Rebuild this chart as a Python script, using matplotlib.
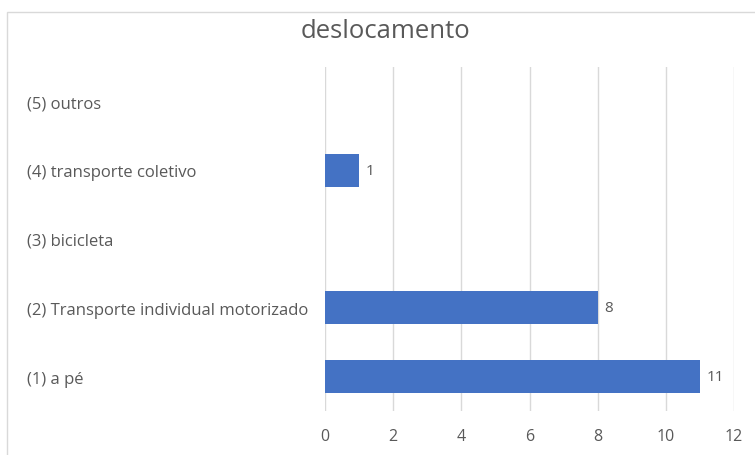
import matplotlib.pyplot as plt
from matplotlib.patches import Rectangle

# modes of travel, bottom to top
categories = ['(1) a pé', '(2) Transporte individual motorizado', '(3) bicicleta',
              '(4) transporte coletivo', '(5) outros']
counts = [11, 8, 0, 1, 0]
x_ticks = [0, 2, 4, 6, 8, 10, 12]

bar_color = '#4472C4'
text_color = '#595959'
grid_color = '#D9D9D9'

plt.rcParams['font.family'] = ['Open Sans', 'DejaVu Sans']

fig = plt.figure(figsize=(7.55, 4.56), dpi=100)
fig.patch.set_facecolor('white')

# light chart frame
fig.patches.append(Rectangle((7 / 755, -0.05), 1.0, 1 - 13 / 456 + 0.05,
                             transform=fig.transFigure, fill=False,
                             edgecolor='#D9D9D9', linewidth=1.0))

ax = fig.add_axes([325 / 755, 1 - 412 / 456, (734 - 325) / 755, (412 - 68) / 456])

ypos = list(range(len(categories)))
ax.barh(ypos, counts, height=0.48, color=bar_color, zorder=3)

for y, v in zip(ypos, counts):
    if v > 0:
        ax.annotate(str(v), (v, y), xytext=(5, 0), textcoords='offset points',
                    va='center', ha='left', fontsize=11, color=text_color)

ax.set_xlim(0, 12)
ax.set_ylim(-0.5, len(categories) - 0.5)
ax.set_xticks(x_ticks)
ax.set_xticklabels([str(t) for t in x_ticks])
ax.set_yticks(ypos)
ax.set_yticklabels(categories)

ax.grid(axis='x', color=grid_color, linewidth=1.0, zorder=0)
for s in ax.spines.values():
    s.set_visible(False)

ax.tick_params(axis='x', length=0, pad=12, labelsize=11.5, labelcolor=text_color)
ax.tick_params(axis='y', length=0, pad=298 * 72 / 100, labelsize=12, labelcolor=text_color)
for lbl in ax.get_yticklabels():
    lbl.set_horizontalalignment('left')

fig.text(386 / 755, 1 - 32 / 456, 'deslocamento', ha='center', va='center',
         fontsize=18.5, color=text_color)

fig.savefig('out.png', dpi=100)
